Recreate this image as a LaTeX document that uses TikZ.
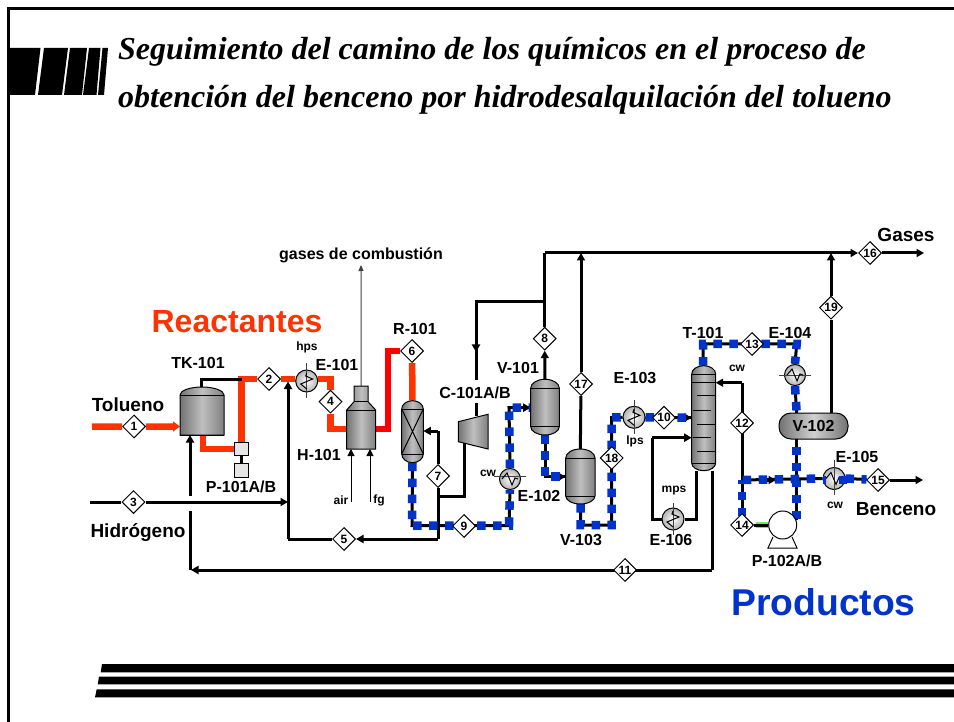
\documentclass[tikz,border=0pt]{standalone}
\usepackage{fontspec}
\setmainfont{Liberation Sans}
\newfontfamily\ttlfont{Liberation Serif}
\usetikzlibrary{shapes.geometric,arrows.meta}
\pgfdeclarelayer{pipes}
\pgfdeclarelayer{paper}
\pgfsetlayers{paper,pipes,main}
\definecolor{oran}{HTML}{FF3300}
\definecolor{redd}{HTML}{FF0000}
\definecolor{blu}{HTML}{0033CC}
\definecolor{grn}{HTML}{66EE66}
\tikzset{
 dia/.style={diamond,draw=black,fill=white,line width=1pt,minimum width=23pt,minimum height=23pt,inner sep=0pt,aspect=1,font=\bfseries\fontsize{12}{12}\selectfont},
 lab/.style={inner sep=0pt,font=\bfseries\fontsize{16}{18}\selectfont},
 big/.style={inner sep=0pt,font=\bfseries\fontsize{19}{20}\selectfont},
 small/.style={inner sep=0pt,font=\bfseries\fontsize{12}{14}\selectfont},
 box/.style={inner sep=0pt,outer sep=0pt},
 vesselbody/.style={draw=black,line width=1pt,left color=black!55,right color=black!50,middle color=black!25},
 hxn/.style={circle,draw=black,line width=1pt,inner sep=0pt,minimum size=22pt,inner color=white,outer color=black!30},
 thinl/.style={draw=black!75,line width=1pt},
 zg/.style={draw=black,line width=1pt,line join=miter},
 kp/.style={draw=black,line width=3pt,line join=miter},
 ka/.style={kp,-{Triangle[length=7.5pt,width=8pt]}},
 opipe/.style={draw=oran,line width=6.5pt,line join=miter},
 rpipe/.style={draw=redd,line width=6.5pt,line join=miter},
 bpipe/.style={draw=blu,line width=8.5pt,dash pattern=on 8.5pt off 7.5pt,line join=miter,preaction={draw=black,line width=3pt,solid}},
 title/.style={inner sep=0pt,anchor=base west,font=\ttlfont\bfseries\itshape\fontsize{32}{34}\selectfont},
 blk/.style={fill=black,draw=none}
}
\newcommand\vessel[7]{%
 \pgfmathsetmacro\xm{(#2+#3)/2}%
 \pgfmathsetmacro\kx{.55*(#3-#2)/2}%
 \pgfmathsetmacro\ky{.55*(#5-#4)}%
 \pgfmathsetmacro\kz{.55*(#7-#6)}%
 \path[vesselbody] (#2,#5) .. controls (#2,#5-\ky) and (\xm-\kx,#4) .. (\xm,#4) .. controls (\xm+\kx,#4) and (#3,#5-\ky) .. (#3,#5) -- (#3,#6) .. controls (#3,#6+\kz) and (\xm+\kx,#7) .. (\xm,#7) .. controls (\xm-\kx,#7) and (#2,#6+\kz) .. (#2,#6) -- cycle;
 \draw[draw=black,line width=1pt] (#2,#5) -- (#3,#5) (#2,#6) -- (#3,#6);
 \node[box,minimum width={(#3-#2)*1pt},minimum height={(#7-#4)*1pt}] (#1) at (\xm,{(#4+#7)/2}) {};
}
\newcommand\zig[3]{\draw[zg,shift={(#1,#2)},rotate=#3] (-8,0) -- (-3,-6) -- (2,6) -- (5,-1) -- (8,0);}
\begin{document}
\begin{tikzpicture}[x=1pt,y=-1pt]
\useasboundingbox (0,0) rectangle (954,722);
\begin{pgfonlayer}{paper}
\fill[white] (0,0) rectangle (954,722);
\end{pgfonlayer}
% frame and decoration
\draw[line width=2.6pt] (8.5,722) -- (8.5,8.5) -- (954,8.5);
\path[blk] (8,48) -- (40.5,48) -- (35,95) -- (8,95) -- cycle;
\path[blk] (44,48) -- (68,48) -- (62,95) -- (38,95) -- cycle;
\path[blk] (70,48) -- (87,48) -- (82,95) -- (64,95) -- cycle;
\path[blk] (89,48) -- (100.5,48) -- (96.5,95) -- (83,95) -- cycle;
\path[blk] (102.5,48) -- (108,48) -- (104,95) -- (98,95) -- cycle;
\path[blk] (102,664) -- (954,664) -- (954,672.3) -- (100.7,672.3) -- cycle;
\path[blk] (99,676.7) -- (954,676.7) -- (954,684.3) -- (97.7,684.3) -- cycle;
\path[blk] (96.7,689.3) -- (954,689.3) -- (954,697.3) -- (95,697.3) -- cycle;
\node[title] (t1) at (118,60) {Seguimiento del camino de los químicos en el proceso de};
\node[title] (t2) at (118,108) {obtención del benceno por hidrodesalquilación del tolueno};
% vessels
\vessel{tk}{180}{224}{387}{395}{435}{435}
\vessel{r101}{401.7}{423.3}{400.7}{409}{454}{462.7}
\draw[draw=black,line width=1pt] (401.7,409) -- (423.3,454) (423.3,409) -- (401.7,454);
\vessel{v101}{530.7}{559.3}{379.3}{388}{426.7}{435}
\vessel{v103}{565.7}{595}{449}{458}{496}{504}
\vessel{t101}{691.7}{715.7}{365.7}{374}{463}{470.7}
\draw[draw=black,line width=1pt] (691.7,382) -- (715.7,382) (697,395.7) -- (715.7,395.7) (693,410) -- (711,410) (697,424) -- (715.7,424) (693,437.7) -- (711,437.7) (697,451.7) -- (715.7,451.7);
% furnace
\path[vesselbody] (354,386) -- (368,386) -- (368,401.7) -- (375.7,410) -- (375.7,449) -- (346.7,449) -- (346.7,410) -- (354,401.7) -- cycle;
\draw[draw=black,line width=1pt] (354,401.7) -- (368,401.7) (346.7,410) -- (375.7,410);
\node[box,minimum width=29pt,minimum height=63pt] (h101) at (361.2,417.5) {};
% compressor
\path[vesselbody] (458.3,421.7) -- (488,414.3) -- (488,449) -- (458.3,441.7) -- cycle;
\node[box,minimum width=30pt,minimum height=35pt] (c101) at (473,431.6) {};
% pumps
\node[box,draw=black,line width=1pt,fill=black!10,minimum width=14.5pt,minimum height=13.7pt] (p101) at (241.5,449) {};
\node[box,draw=black,line width=1pt,fill=black!10,minimum width=14.5pt,minimum height=14pt] (m101) at (241.5,470) {};
\node[circle,draw=black,line width=1pt,fill=white,inner sep=0pt,minimum size=28pt] (p102) at (782.7,525) {};
\draw[draw=black,line width=1pt] (773,537) -- (768,548) -- (797,548) -- (792,537);
% V-102
\node[box,draw=black,line width=1pt,rounded corners=12pt,left color=black!55,right color=black!55,middle color=black!18,minimum width=69pt,minimum height=26pt,font=\bfseries\fontsize{16}{18}\selectfont] (v102) at (813.5,426) {V-102};
% exchangers
\node[hxn] (e101) at (306.7,381) {};
\node[hxn,minimum size=21pt] (e102) at (510,479) {};
\node[hxn] (e103) at (634,417.3) {};
\node[hxn,minimum size=21pt] (e104) at (795,375) {};
\node[hxn] (e105) at (834,478.5) {};
\node[hxn] (e106) at (673,519) {};
\draw[thinl] (306.7,363) -- (306.7,398);
\draw[thinl] (634,400) -- (634,434);
\draw[thinl] (673,503) -- (673,535);
\draw[thinl] (834,460) -- (834,495);
\draw[thinl] (779,375) -- (811,375) (494,476) -- (526,476);
\zig{306.7}{381}{90}
\zig{510}{479}{0}
\zig{634}{417.3}{90}
\zig{795}{375}{0}
\zig{834}{478.5}{0}
\zig{673}{519}{90}
\fill[blu] (838.5,476) rectangle (847,484);
\fill[blu] (822.5,476) rectangle (826,484);
% diamonds
\foreach \n/\x/\y in {1/134/426.5,2/269/379,3/133.5/502,4/330.5/401.7,5/344/539,6/412/351,7/438/476,8/544.7/338.7,9/464/526,10/664/417.7,11/625/570,12/742/423,13/752/344,14/742/525,15/878/480,16/870/253,17/581/384,18/611.7/458,19/831/307.7}
 {\node[dia] (d\n) at (\x,\y) {\n};}
% labels
\node[inner sep=0pt,text=oran,font=\bfseries\fontsize{32}{34}\selectfont] (lreac) at (237,322) {Reactantes};
\node[inner sep=0pt,text=blu,font=\bfseries\fontsize{37.3}{40}\selectfont] (lprod) at (823.5,602) {Productos};
\node[lab] (ltk) at (198,363) {TK-101};
\node[small] (lhps) at (307,347) {hps};
\node[lab] (le101) at (337,365) {E-101};
\node[big] (ltol) at (128,405) {Tolueno};
\node[lab] (lp101) at (241,487) {P-101A/B};
\node[lab] (lh101) at (319,455) {H-101};
\node[big] (lhid) at (138,533) {Hidrógeno};
\node[small] (lair) at (341,500) {air};
\node[small] (lfg) at (379,500) {fg};
\node[inner sep=0pt,font=\bfseries\fontsize{16}{18}\selectfont] (lgas) at (361,255) {gases de combustión};
\node[lab] (lr101) at (415,329) {R-101};
\node[lab,fill=white] (lc101) at (475,393) {C-101A/B};
\node[lab] (lv101) at (518,368) {V-101};
\node[lab] (le103) at (635,378) {E-103};
\node[small] (llps) at (635,441) {lps};
\node[lab] (le102) at (539,496) {E-102};
\node[small] (lcw1) at (488,473) {cw};
\node[lab] (lv103) at (581,540) {V-103};
\node[small] (lmps) at (674,491) {mps};
\node[lab] (le106) at (671,540) {E-106};
\node[lab] (lt101) at (703,333) {T-101};
\node[small] (lcw2) at (737,368) {cw};
\node[lab] (le104) at (790,333) {E-104};
\node[lab] (le105) at (857,457) {E-105};
\node[small] (lcw3) at (835,505) {cw};
\node[big] (lben) at (896,509) {Benceno};
\node[lab] (lp102) at (787,561) {P-102A/B};
\node[big] (lgases) at (906,235) {Gases};
% connectors
\begin{pgfonlayer}{pipes}
\coordinate (in1) at (92,426.7);
\coordinate (in3) at (90,502);
\coordinate (tkt) at (201,387);
\coordinate (tkb) at (203,435);
\coordinate (hin) at (346.7,429);
\coordinate (hout) at (375.7,429);
\coordinate (r6) at (388,351);
\coordinate (j5) at (288,539);
\coordinate (j7) at (438,539);
\coordinate (rin) at (423.3,431);
\coordinate (c7) at (464.3,496.7);
\coordinate (ctop) at (476,416);
\coordinate (cbot) at (464.3,443);
\coordinate (rec) at (476,301.7);
\coordinate (j8) at (544.7,301.7);
\coordinate (main) at (544.7,253);
\coordinate (c9) at (412,525.7);
\coordinate (c9b) at (509,525.7);
\coordinate (v1in) at (530.7,407.7);
\coordinate (v1out) at (545,435);
\coordinate (v3in) at (565.7,476.7);
\coordinate (v3out) at (580.7,504);
\coordinate (v3c) at (580.7,525);
\coordinate (c18) at (611.7,525);
\coordinate (c18b) at (611.7,417.5);
\coordinate (tin) at (691.7,417.7);
\coordinate (ttop) at (703,365.7);
\coordinate (tc) at (703,344);
\coordinate (e4c) at (796.7,344);
\coordinate (j14) at (742,480);
\coordinate (s14) at (742,516);
\coordinate (hs) at (742.7,480);
\coordinate (j15) at (796.7,480);
\coordinate (v2s) at (796.7,446.7);
\coordinate (c12) at (742,382.7);
\coordinate (tb1) at (696,470.7);
\coordinate (tb2) at (712,470.7);
\coordinate (c106) at (652,519);
\coordinate (t106) at (691.7,437.7);
\coordinate (c11) at (712,570);
\coordinate (end11) at (191,570);
\coordinate (c11b) at (190,570);
\coordinate (gap1) at (190,510.7);
\coordinate (gap2) at (190,495.7);
\coordinate (tkh) at (190,435);
% orange / red
\draw[opipe,-{Triangle[length=7pt,width=10pt]}] (in1) -- (d1) -- (d1 -| tk.west);
\draw[opipe] (tkb) |- (p101.west);
\draw[opipe] (p101.north) -- (p101.north |- d2) -- (d2) -- (e101.west |- d2);
\draw[opipe] (e101.east |- d2) -- (d4 |- d2) -- (d4) -- (d4 |- hin) -- (hin);
\draw[rpipe] (hout) -| (r6) -- (d6);
\draw[opipe] (d6) -- (r101.north);
\draw[line width=3pt] (241.5,456) -- (241.5,463);
% black
\draw[kp] (tkt) |- (p101.north |- d2);
\draw[kp] (in3) -- (d3);
\draw[ka] (d3) -- (j5 |- d3);
\draw[ka] (gap2) -- (tkh);
\draw[kp] (gap1) -- (c11b);
\draw[ka] (c11) -- (end11);
\draw[kp] (tb2) -- (c11);
\draw[ka] (j5) -- (288,381.5);
\draw[kp] (j5) -- (d5);
\draw[ka] (j7) -- (d5.east);
\draw[kp] (j7) -- (d7);
\draw[kp] (d7) -- (d7 |- rin);
\draw[ka] (d7 |- rin) -- (rin);
\draw[kp] (438,496.7) -- (c7) -- (cbot);
\draw[kp] (ctop) -- (476,403);
\draw[kp] (476,380) -- (rec) -- (j8);
\draw[ka] (rec) -- (476,352);
\draw[kp] (main) -- (j8) -- (d8);
\draw[ka] (v101.north) -- (d8.south);
\draw[ka] (main) -- (d16.west);
\draw[ka] (d16) -- (924,253);
\draw[kp] (v103.north) -- (d17);
\draw[ka] (d17) -- (d17 |- main);
\draw[kp] (v102.north -| d19) -- (d19);
\draw[ka] (d19) -- (d19 |- main);
\draw[ka] (d15) -- (923,480);
\draw[kp] (j14) -- (c12);
\draw[ka] (c12) -- (715.7,382.7);
\draw[kp] (tb1) |- (e106);
\draw[kp] (e106) -- (c106) -- (652,437.7);
\draw[ka] (652,437.7) -- (t106);
\draw[line width=6pt,draw=grn] (756,525) -- (p102.west);
\draw[kp] (d14) -- (p102.west);
% arrows to vessels on blue lines
\draw[ka] (523,407.7) -- (v1in);
\draw[ka] (556,476.7) -- (v3in);
\draw[ka] (680,417.7) -- (tin);
\draw[ka] (760,480) -- (776,480);
% thin
\draw[draw=black!75,line width=1pt,-{Triangle[length=6pt,width=5pt]}] (h101.north) -- (361,265);
\draw[draw=black,line width=1pt,-{Triangle[length=7pt,width=7pt]}] (351,502) -- (351,449);
\draw[draw=black,line width=1pt,-{Triangle[length=7pt,width=7pt]}] (370,502) -- (370,449);
% blue
\draw[bpipe] (r101.south) -- (c9) -- (c9b) -- (e102.south);
\draw[bpipe] (e102.north) -- (509,407.7) -- (v1in);
\draw[bpipe] (v1out) -- (v1out |- v3in) -- (v3in);
\draw[bpipe] (v3out) -- (v3c) -- (c18) -- (c18b) -- (e103.west);
\draw[bpipe] (e103.east) -- (tin);
\draw[bpipe] (ttop) -- (tc) -- (e4c) -- (e104.north);
\draw[bpipe] (e104.south) -- (v102.north -| e4c);
\draw[kp] (v102.south -| e4c) -- (v2s);
\draw[bpipe] (v2s) -- (796.7,520);
\draw[kp] (d14) -- (s14);
\draw[bpipe] (s14) -- (j14);
\draw[bpipe] (hs) -- (e105.west);
\draw[bpipe] (e105.east) -- (d15);
\end{pgfonlayer}
\end{tikzpicture}
\end{document}
